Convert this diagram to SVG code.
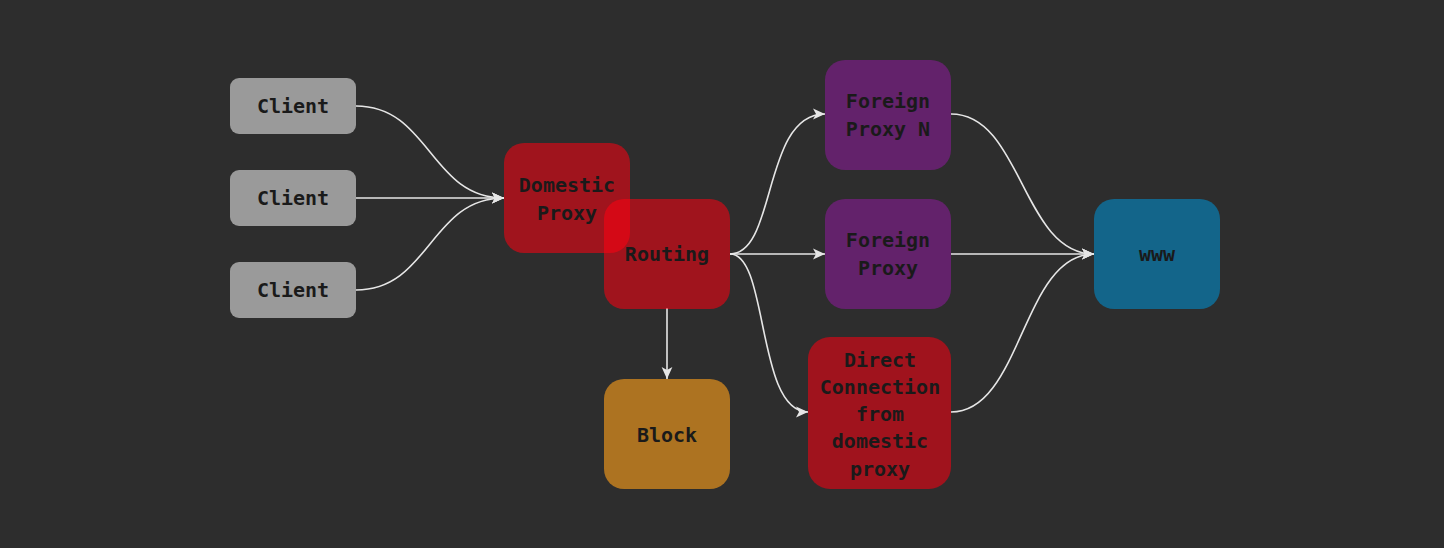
<svg xmlns="http://www.w3.org/2000/svg" width="1444" height="548" viewBox="0 0 1444 548">
<style>
.t{font-family:"DejaVu Sans Mono","Liberation Mono",monospace;font-weight:bold;font-size:20px;fill:#1a1a1a;text-anchor:middle;dominant-baseline:central}
.client{fill:#9a9a9a}
.red{fill:#ff0010;fill-opacity:0.55}
.purple{fill:#63226b}
.c{fill:none;stroke:#e6e6e6;stroke-width:1.6;marker-end:url(#ah)}
</style>
<defs>
<marker id="ah" viewBox="0 0 10 10" refX="10" refY="5" markerWidth="12" markerHeight="12" markerUnits="userSpaceOnUse" orient="auto">
<path d="M0,0.5 L10,5 L0,9.5 L2.5,5 Z" fill="#e6e6e6"/>
</marker>
</defs>
<rect width="1444" height="548" fill="#2d2d2d"/>
<g id="connectors">
<path class="c" d="M356,106 C430,106 430,198 504,198"/>
<path class="c" d="M356,198 L504,198"/>
<path class="c" d="M356,290 C430,290 430,198 504,198"/>
<path class="c" d="M730,254 C777,254 762,114 825,114"/>
<path class="c" d="M730,254 L825,254"/>
<path class="c" d="M730,254 C769,254 756,412 808,412"/>
<path class="c" d="M667,308 L667,379"/>
<path class="c" d="M951,114 C1022,114 1022,254 1094,254"/>
<path class="c" d="M951,254 L1094,254"/>
<path class="c" d="M951,412 C1022,412 1022,254 1094,254"/>
</g>
<g id="client1"><rect class="client" x="230" y="78" width="126" height="56" rx="9"/><text class="t" x="293" y="106">Client</text></g>
<g id="client2"><rect class="client" x="230" y="170" width="126" height="56" rx="9"/><text class="t" x="293" y="198">Client</text></g>
<g id="client3"><rect class="client" x="230" y="262" width="126" height="56" rx="9"/><text class="t" x="293" y="290">Client</text></g>
<g id="domestic"><rect class="red" x="504" y="143" width="126" height="110" rx="20"/><text class="t" x="567" y="185">Domestic</text><text class="t" x="567" y="213">Proxy</text></g>
<g id="routing"><rect class="red" x="604" y="199" width="126" height="110" rx="20"/><text class="t" x="667" y="254">Routing</text></g>
<g id="block"><rect x="604" y="379" width="126" height="110" rx="20" fill="#ad7321"/><text class="t" x="667" y="435">Block</text></g>
<g id="foreignN"><rect class="purple" x="825" y="60" width="126" height="110" rx="20"/><text class="t" x="888" y="101">Foreign</text><text class="t" x="888" y="129">Proxy N</text></g>
<g id="foreign"><rect class="purple" x="825" y="199" width="126" height="110" rx="20"/><text class="t" x="888" y="240">Foreign</text><text class="t" x="888" y="268">Proxy</text></g>
<g id="direct"><rect x="808" y="337" width="143" height="152" rx="22" fill="#a0131d"/><text class="t" x="880" y="360">Direct</text><text class="t" x="880" y="387">Connection</text><text class="t" x="880" y="414">from</text><text class="t" x="880" y="441">domestic</text><text class="t" x="880" y="469">proxy</text></g>
<g id="www"><rect x="1094" y="199" width="126" height="110" rx="20" fill="#13658a"/><text class="t" x="1157" y="254">www</text></g>
</svg>
